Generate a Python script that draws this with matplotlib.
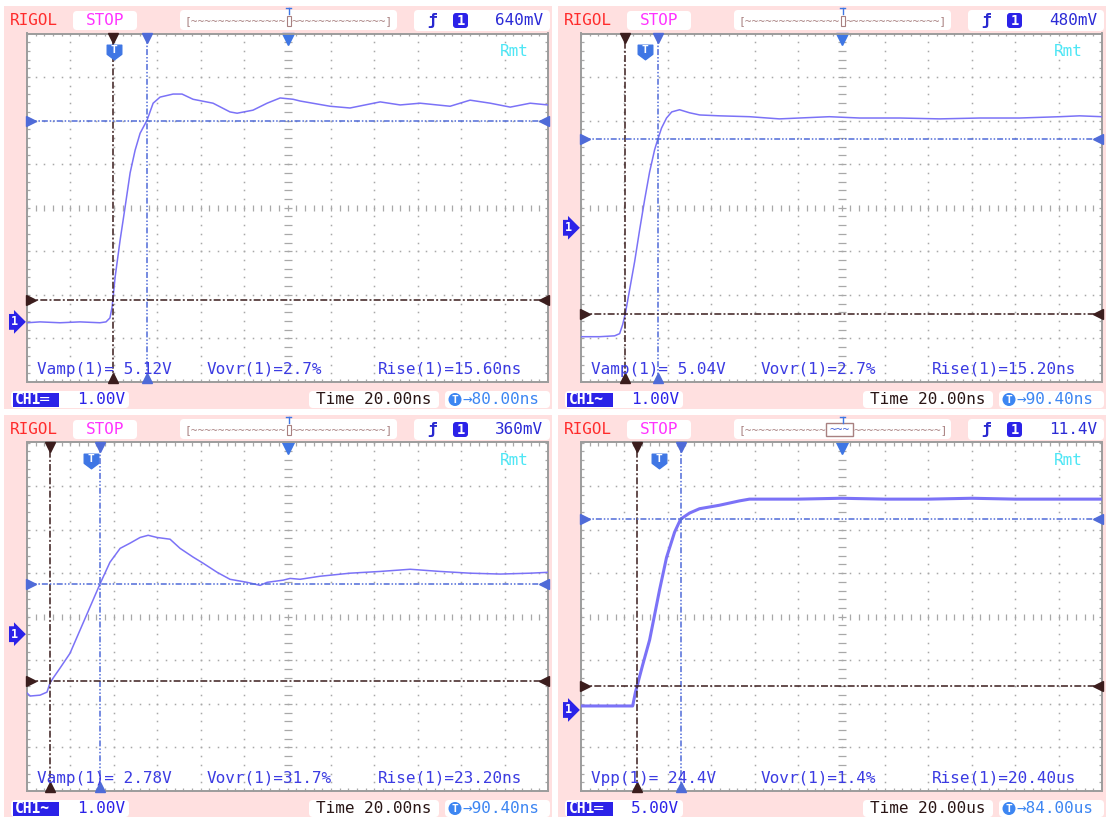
import numpy as np
import matplotlib
matplotlib.use("Agg")
import matplotlib.pyplot as plt
from matplotlib.patches import Rectangle, FancyBboxPatch, Circle
from matplotlib.path import Path

plt.rcParams['font.family'] = ['DejaVu Sans Mono', 'DejaVu Sans']
plt.rcParams['lines.scale_dashes'] = False

W, H = 1106, 817

# ---- values read off the four captures ----
# time from the left edge of the screen (ns, ns, ns, us), channel 1 volts
tl_t = [0, 6, 15.2, 24.4, 33.6, 36.4, 38.2, 39.2, 40.6, 42.9, 45.2, 47.5, 49.8, 52.1, 55.3,
        58.1, 61.3, 67.3, 71.4, 76.5, 85.7, 93.5, 96.8, 104.1, 110.6, 116.6, 122.6, 125.8,
        139.6, 148.8, 162.7, 171.9, 181.1, 194.9, 204.1, 213.4, 222.6, 231.8, 240]
tl_v = [-0.02, 0, -0.02, 0, -0.02, 0, 0.09, 0.34, 1.03, 1.88, 2.64, 3.42, 3.94, 4.33, 4.63,
        5.02, 5.16, 5.23, 5.23, 5.11, 5.02, 4.82, 4.79, 4.86, 5.02, 5.14, 5.11, 5.07,
        4.95, 4.91, 5.05, 4.98, 5.02, 4.95, 5.09, 5.02, 4.93, 5.02, 4.98]

tr_t = [0, 8.6, 15.5, 17.8, 19.2, 20.5, 22.4, 24.7, 27.0, 29.3, 31.6, 33.9, 35.3, 37.1, 39.4,
        41.8, 45.4, 50.0, 54.7, 63.9, 77.7, 91.4, 100.6, 114.4, 128.4, 146.8, 165.3, 183.7,
        202.1, 220.5, 229.7, 240]
tr_v = [-2.50, -2.50, -2.48, -2.43, -2.22, -1.95, -1.42, -0.78, -0.05, 0.64, 1.28, 1.79, 2.02,
        2.29, 2.52, 2.66, 2.71, 2.64, 2.59, 2.57, 2.55, 2.50, 2.52, 2.55, 2.52, 2.52, 2.50,
        2.52, 2.52, 2.55, 2.57, 2.55]

bl_t = [0, 1.4, 6.0, 9.2, 10.6, 12.0, 15.2, 19.8, 24.4, 29.0, 33.6, 38.2, 42.9, 47.5, 52.1,
        55.8, 59.9, 65.9, 70.5, 76.5, 81.1, 87.6, 93.5, 101.4, 107.4, 110.6, 118.0, 121.2,
        125.8, 135.0, 148.8, 162.7, 176.5, 190.3, 204.1, 218.0, 231.8, 240]
bl_v = [-1.35, -1.42, -1.40, -1.33, -1.12, -1.01, -0.78, -0.44, 0.09, 0.62, 1.15, 1.65, 1.97,
        2.09, 2.22, 2.27, 2.22, 2.18, 1.97, 1.77, 1.63, 1.42, 1.26, 1.19, 1.12, 1.19, 1.24,
        1.28, 1.26, 1.33, 1.40, 1.44, 1.49, 1.44, 1.40, 1.38, 1.40, 1.42]

br_t = [0, 23.8, 25.1, 28.4, 31.6, 36.2, 39.4, 43.1, 45.9, 50.0, 54.6, 63.8, 73.0, 77.6,
        100, 120, 140, 160, 180, 200, 220, 240]
br_v = [0.46, 0.46, 2.06, 5.16, 8.03, 13.8, 17.5, 20.4, 21.9, 22.6, 23.1, 23.5, 24.0, 24.2,
        24.2, 24.3, 24.2, 24.2, 24.3, 24.2, 24.2, 24.2]

trig_level = ["640mV", "480mV", "360mV", "11.4V"]
volts_div = [1.0, 1.0, 1.0, 5.0]
volts_label = ["1.00V", "1.00V", "1.00V", "5.00V"]
time_div = [20, 20, 20, 20]
time_label = ["20.00ns", "20.00ns", "20.00ns", "20.00us"]
trig_offset = [80.0, 90.4, 90.4, 84.0]
offset_label = ["80.00ns", "90.40ns", "90.40ns", "84.00us"]
coupling = ["DC", "AC", "AC", "DC"]
ground_div = [-2.62, -0.46, -0.40, -2.14]
cursor_t = [(39.6, 55.2), (20.4, 35.6), (10.4, 33.6), (25.6, 46.0)]
cursor_v = [(0.51, 4.61), (-1.98, 2.04), (-1.08, 1.15), (2.75, 21.9)]
meas = [("Vamp(1)= 5.12V", "Vovr(1)=2.7%", "Rise(1)=15.60ns"),
        ("Vamp(1)= 5.04V", "Vovr(1)=2.7%", "Rise(1)=15.20ns"),
        ("Vamp(1)= 2.78V", "Vovr(1)=31.7%", "Rise(1)=23.20ns"),
        ("Vpp(1)= 24.4V", "Vovr(1)=1.4%", "Rise(1)=20.40us")]

PINK = '#ffe0e0'
GRID = '#a8a8a8'
BORDER = '#9c9c9c'
TRACE = '#7b72f7'
CUR_B = '#4f6bd8'
CUR_R = '#3b1d1d'
TBLUE = '#3f76e4'
CHBLUE = '#2b22e8'
MEAS = '#3b3be2'
WAVE = '#a88080'
FS = 11.5
DASH_R = (5, 1.6, 1.4, 1.6)
DASH_B = (4.3, 1.4, 1.1, 1.4, 1.1, 1.4)

fig = plt.figure(figsize=(W / 100, H / 100), dpi=100)
fig.patch.set_facecolor('white')
bg = fig.add_axes([0, 0, 1, 1], zorder=0)
ov = fig.add_axes([0, 0, 1, 1], zorder=5)
for a in (bg, ov):
    a.set_xlim(0, W)
    a.set_ylim(H, 0)
    a.axis('off')

badge = Path([(-1, 1), (1, 1), (1, -0.25), (0, -1), (-1, -0.25), (-1, 1)],
             [Path.MOVETO] + [Path.LINETO] * 4 + [Path.CLOSEPOLY])


def rbox(x0, y0, x1, y1, fc='white', r=4):
    ov.add_patch(FancyBboxPatch((x0, y0), x1 - x0, y1 - y0,
                                boxstyle=f"round,pad=0,rounding_size={r}", fc=fc, ec='none'))


def draw_panel(k, t, v, ox, oy):
    tb, vd, g = time_div[k], volts_div[k], ground_div[k]
    bg.add_patch(Rectangle((ox + 4, oy + 6), 548, 403, fc=PINK, ec='none'))

    # header row
    ov.text(ox + 10, oy + 20, "RIGOL", color='#ff2b2b', fontsize=FS, va='center')
    rbox(ox + 73, oy + 11, ox + 137, oy + 30)
    ov.text(ox + 105, oy + 20, "STOP", color='#ff33ff', fontsize=FS, ha='center', va='center')
    rbox(ox + 180, oy + 10, ox + 397, oy + 30)
    if k == 3:
        lo, hi, nl, nr = 272, 299, 12, 13
        ov.add_patch(Rectangle((ox + lo, oy + 14), hi - lo, 13, fc='white', ec=WAVE, lw=1))
        ov.text(ox + 285.5, oy + 21, "~~~", color='#3b5bd8', fontsize=8, ha='center', va='center')
    else:
        lo, hi, nl, nr = 286, 291, 14, 14
        ov.add_patch(Rectangle((ox + 286.5, oy + 16), 4, 10, fc='none', ec=WAVE, lw=0.8))
    ov.text(ox + lo, oy + 21, "[" + "~" * nl, color=WAVE, fontsize=8, ha='right', va='center')
    ov.text(ox + hi, oy + 21, "~" * nr + "]", color=WAVE, fontsize=8, ha='left', va='center')
    ov.plot([ox + 288.5, ox + 288.5], [oy + 8, oy + 14], color=TBLUE, lw=1)
    ov.plot([ox + 286, ox + 291], [oy + 7.5, oy + 7.5], color=TBLUE, lw=1)
    rbox(ox + 414, oy + 10, ox + 550, oy + 31)
    ov.text(ox + 432, oy + 20.5, "ƒ", color='#2828d0', fontsize=FS, fontweight='bold',
            ha='center', va='center')
    rbox(ox + 453, oy + 13, ox + 468, oy + 28, fc=CHBLUE, r=3)
    ov.text(ox + 460.5, oy + 20.5, "1", color='white', fontsize=10, fontweight='bold',
            ha='center', va='center')
    ov.text(ox + 543, oy + 20.5, trig_level[k], color='#2b2bd6', fontsize=FS,
            ha='right', va='center')

    # bottom row
    rbox(ox + 11, oy + 391, ox + 129, oy + 408)
    ov.add_patch(Rectangle((ox + 13, oy + 393), 46, 13.5, fc=CHBLUE, ec='none'))
    ov.text(ox + 15, oy + 399.5, "CH1" + ("═" if coupling[k] == "DC" else "~"), color='white',
            fontsize=10.5, fontweight='bold', va='center')
    ov.text(ox + 77, oy + 399.5, volts_label[k], color=CHBLUE, fontsize=FS, va='center')
    rbox(ox + 309, oy + 391, ox + 439, oy + 408)
    ov.text(ox + 374, oy + 399.5, "Time " + time_label[k], color='#2a1616', fontsize=FS,
            ha='center', va='center')
    rbox(ox + 445, oy + 391, ox + 550, oy + 408)
    ov.add_patch(Circle((ox + 455, oy + 399.5), 6.5, fc='#3d86f2', ec='none'))
    ov.text(ox + 455, oy + 399.5, "T", color='white', fontsize=8, fontweight='bold',
            ha='center', va='center')
    ov.text(ox + 462, oy + 399.5, "→" + offset_label[k], color='#3d86f2', fontsize=FS, va='center')

    # texts on the screen
    ov.text(ox + 500, oy + 51, "Rmt", color='#4ee6f5', fontsize=FS, va='center')
    for x, s in zip((37, 207, 378), meas[k]):
        ov.text(ox + x, oy + 369, s, color=MEAS, fontsize=FS, va='center')

    # graticule (division units) and data axes on top of it
    gx0, gy0, gw, gh = ox + 27, oy + 33.5, 521, 348.5
    rect = [gx0 / W, 1 - (gy0 + gh) / H, gw / W, gh / H]
    gax = fig.add_axes(rect, zorder=1)
    gax.set_xlim(0, 12)
    gax.set_ylim(-4, 4)
    gax.set_xticks([])
    gax.set_yticks([])
    for s in gax.spines.values():
        s.set_color(BORDER)
        s.set_linewidth(1.4)
    mx = np.linspace(0, 12, 61)
    my = np.linspace(-4, 4, 41)
    for gx in range(1, 12):
        if gx != 6:
            gax.plot(np.full(41, gx), my, ls='none', marker='s', ms=1.1, mew=0, color=GRID)
    for gy in (-3, -2, -1, 1, 2, 3):
        gax.plot(mx, np.full(61, gy), ls='none', marker='s', ms=1.1, mew=0, color=GRID)
    gax.plot(mx, np.zeros(61), ls='none', marker='|', ms=4.5, mew=0.9, color=GRID)
    gax.plot(np.full(41, 6), my, ls='none', marker='_', ms=5.5, mew=0.9, color=GRID)
    for yy in (4, -4):
        gax.plot(mx, np.full(61, yy), ls='none', marker='|', ms=4.5, mew=0.9, color=GRID)
    for xx in (0, 12):
        gax.plot(np.full(41, xx), my, ls='none', marker='_', ms=4.5, mew=0.9, color=GRID)
    gax.plot([6], [3.885], 'v', ms=8, color=TBLUE, clip_on=False)
    gax.text(-0.3, g, "1", color='white', fontsize=8.5, fontweight='bold', ha='center',
             va='center', clip_on=False,
             bbox=dict(boxstyle='rarrow,pad=0.12', fc=CHBLUE, ec='none'))

    ax = fig.add_axes(rect, zorder=2)
    ax.patch.set_visible(False)
    ax.axis('off')
    ax.set_xlim(0, 12 * tb)
    ax.set_ylim((-4 - g) * vd, (4 - g) * vd)
    ax.plot(t, v, color=TRACE, lw=2.2 if k == 3 else 1.1, zorder=3)

    xt = ax.get_xaxis_transform()
    yt = ax.get_yaxis_transform()
    for x, c, d in zip(cursor_t[k], (CUR_R, CUR_B), (DASH_R, DASH_B)):
        ax.axvline(x, color=c, lw=1.1, dashes=d, zorder=4)
        ax.plot([x], [0.988], 'v', transform=xt, color=c, ms=6.5, clip_on=False, zorder=4)
        ax.plot([x], [0.012], '^', transform=xt, color=c, ms=6.5, clip_on=False, zorder=4)
    for y, c, d in zip(cursor_v[k], (CUR_R, CUR_B), (DASH_R, DASH_B)):
        ax.axhline(y, color=c, lw=1.1, dashes=d, zorder=4)
        ax.plot([0.008], [y], '>', transform=yt, color=c, ms=6.5, clip_on=False, zorder=4)
        ax.plot([0.992], [y], '<', transform=yt, color=c, ms=6.5, clip_on=False, zorder=4)

    trig_x = 6 * tb - trig_offset[k]
    ax.plot([trig_x], [0.947], transform=xt, marker=badge, ms=10.5, color=TBLUE,
            ls='none', clip_on=False, zorder=5)
    ax.text(trig_x, 0.953, "T", transform=xt, color='white', fontsize=8, fontweight='bold',
            ha='center', va='center', zorder=6)


traces = [(tl_t, tl_v), (tr_t, tr_v), (bl_t, bl_v), (br_t, br_v)]
origins = [(0, 0), (554, 0), (0, 409), (554, 409)]
for k, ((t, v), (ox, oy)) in enumerate(zip(traces, origins)):
    draw_panel(k, t, v, ox, oy)

fig.savefig("out.png", dpi=100)
